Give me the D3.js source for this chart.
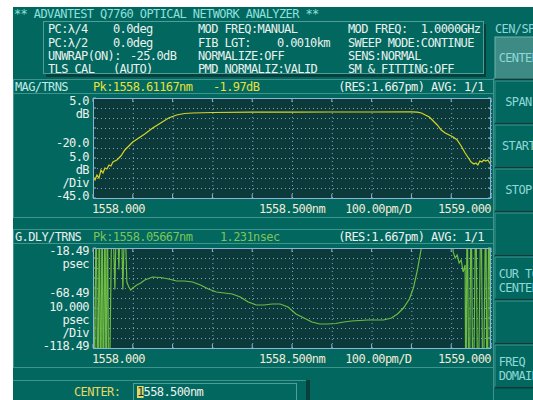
<!DOCTYPE html>
<html>
<head>
<meta charset="utf-8">
<script src="https://cdn.jsdelivr.net/npm/d3@7"></script>
<style>
  body { margin: 0; background: #fff; }
  svg text { font-family: "DejaVu Sans Mono", monospace; font-size: 12px; letter-spacing: -0.6px; white-space: pre; }
</style>
</head>
<body>
<div id="SCREEN"></div>
<script>
// wavelength axis (nm) and the two traces
var wlMag = [1558.000, 1558.005, 1558.010, 1558.015, 1558.020, 1558.025, 1558.030, 1558.035, 1558.040, 1558.045,
             1558.050, 1558.060, 1558.070, 1558.080, 1558.090, 1558.100, 1558.115, 1558.130, 1558.150, 1558.170,
             1558.190, 1558.210, 1558.230, 1558.250, 1558.300, 1558.400, 1558.500, 1558.600, 1558.700, 1558.800,
             1558.815, 1558.825, 1558.835, 1558.845, 1558.855, 1558.865, 1558.875, 1558.885, 1558.895, 1558.905,
             1558.915, 1558.925, 1558.935, 1558.945, 1558.950, 1558.957, 1558.962, 1558.967, 1558.972, 1558.977,
             1558.982, 1558.987, 1558.992, 1559.000];
var magDb = [-34.5, -36.0, -33.5, -35.0, -31.0, -32.5, -30.0, -30.5, -28.5, -29.0,
             -27.0, -26.0, -24.0, -21.0, -19.0, -17.0, -15.0, -13.0, -10.0, -7.5,
             -5.0, -3.5, -2.75, -2.5, -2.25, -2.1, -2.05, -2.0, -2.0, -1.97,
             -2.05, -2.5, -3.5, -4.5, -6.5, -8.5, -11.0, -12.5, -13.5, -14.5,
             -16.0, -19.0, -22.5, -25.5, -27.0, -28.0, -27.5, -28.5, -26.5, -27.0,
             -26.0, -26.5, -26.0, -28.5];

var wlDly = [1558.000, 1558.003, 1558.008, 1558.012, 1558.016, 1558.019, 1558.023, 1558.026, 1558.030, 1558.033,
             1558.036, 1558.040, 1558.048, 1558.055, 1558.060, 1558.065, 1558.070, 1558.075, 1558.080, 1558.085,
             1558.090, 1558.095, 1558.100, 1558.110, 1558.120, 1558.130, 1558.150, 1558.170, 1558.190, 1558.210,
             1558.230, 1558.250, 1558.270, 1558.290, 1558.310, 1558.330, 1558.350, 1558.370, 1558.390, 1558.410,
             1558.430, 1558.450, 1558.470, 1558.490, 1558.510, 1558.530, 1558.550, 1558.570, 1558.590, 1558.610,
             1558.630, 1558.650, 1558.670, 1558.690, 1558.710, 1558.730, 1558.750, 1558.765, 1558.780, 1558.795,
             1558.805, 1558.815, 1558.825, 1558.835, 1558.860, 1558.880, 1558.900, 1558.905, 1558.910, 1558.915,
             1558.920, 1558.925, 1558.930, 1558.935, 1558.937, 1558.940, 1558.945, 1558.950, 1558.955, 1558.962,
             1558.967, 1558.975, 1558.980, 1558.987, 1558.990, 1558.995, 1559.000];
var dlyPs = [40, -200, 40, -200, 40, -200, 40, -200, 40, -200,
             40, -200, 40, -60, 40, -40, 40, -60, 20, -52.5,
             -57.5, -60.5, -58.5, -55.5, -53.5, -50.5, -47.5, -48, -49.5, -51.5,
             -51.5, -52.5, -55.5, -59.5, -62.5, -63.5, -64.5, -67.5, -72.5, -75.5,
             -75.5, -74.5, -74.5, -77.5, -84.5, -88.5, -92.5, -94.5, -94.5, -94,
             -92.5, -91.5, -91, -90.5, -90.5, -90.5, -88.5, -84.5, -78.5, -69.5,
             -58.5, -40.5, -18.5, 10, 60, 60, 10, -22.5, -28.5, -25.5,
             -33.5, -30.5, -42.5, -35.5, -200, 40, -200, 40, -200, 40,
             -200, 40, -200, 40, -200, 40, -200];

var magTicks = ["5.0", "dB", "", "", "-20.0", "5.0", "dB", "/Div", "-45.0"];
var dlyTicks = ["-18.49", "psec", "", "", "-68.49", "10.000", "psec", "/Div", "-118.49"];
var xLabels = ["1558.000", "1558.500nm", "100.00pm/D", "1559.000"];

var infoLeft = ["PC:\u03BB/4", "PC:\u03BB/2", "UNWRAP(ON):", "TLS CAL"];
var infoLeftVal = ["0.0deg", "0.0deg", "-25.0dB", "(AUTO)"];
var infoMid = ["MOD FREQ:MANUAL", "FIB LGT:", "NORMALIZE:OFF", "PMD NORMALIZ:VALID"];
var infoMidVal = ["", "0.0010km", "", ""];
var infoRight = ["MOD FREQ:  1.0000GHz", "SWEEP MODE:CONTINUE", "SENS:NORMAL", "SM & FITTING:OFF"];
var softKeys = [["CENTER"], ["SPAN"], ["START"], ["STOP"], [""], ["CUR TO", "CENTER"], [""], ["FREQ  ", "DOMAIN"]];

var W = 533, H = 400;
var TEAL = "#02675f", PLOT_BG = "#0c3a3a", EDGE = "#3f958d", DARK = "#063f3b";

var svg = d3.select("#SCREEN").append("svg")
    .attr("width", W).attr("height", H);

svg.append("rect").attr("width", W).attr("height", H).attr("fill", "#fff");
svg.append("rect").attr("x", 13).attr("y", 7).attr("width", W - 13).attr("height", H - 7).attr("fill", TEAL);

function txt(x, y, s, col, anchor) {
    return svg.append("text").attr("x", x).attr("y", y).attr("fill", col)
        .attr("text-anchor", anchor || "start").text(s);
}
function hline(y, x0, x1, col) {
    svg.append("line").attr("x1", x0).attr("x2", x1).attr("y1", y).attr("y2", y).attr("stroke", col);
}
function vline(x, y0, y1, col) {
    svg.append("line").attr("x1", x).attr("x2", x).attr("y1", y0).attr("y2", y1).attr("stroke", col);
}

// title + info box
txt(14, 18, "** ADVANTEST Q7760 OPTICAL NETWORK ANALYZER **", "#8fe0dc");
svg.append("rect").attr("x", 46).attr("y", 24).attr("width", 440).attr("height", 53).attr("fill", DARK);
svg.append("rect").attr("x", 43.5).attr("y", 21.5).attr("width", 440).attr("height", 52)
    .attr("fill", TEAL).attr("stroke", "#4f9f98");
var rowY = [33, 46.5, 60, 73];
rowY.forEach(function(y, i) {
    txt(48, y, infoLeft[i], "#e8f2ee");
    txt(i == 2 ? 130 : 113, y, infoLeftVal[i], "#e8f2ee");
    txt(198, y, infoMid[i], "#e8f2ee");
    if (infoMidVal[i]) txt(277, y, infoMidVal[i], "#e8f2ee");
    txt(348, y, infoRight[i], "#e8f2ee");
});

// soft keys on the right
txt(495, 33, "CEN/SP", "#8fd8d8");
vline(493.5, 78, 400, EDGE);
softKeys.forEach(function(lab, i) {
    var top = 37 + 44 * i;
    var g = svg.append("g");
    g.append("rect").attr("x", 495).attr("y", top).attr("width", 60).attr("height", 42)
        .attr("fill", i == 0 ? "#3e8a84" : TEAL).attr("stroke", i == 0 ? "#6fb3ad" : EDGE);
    g.append("line").attr("x1", 495).attr("x2", 560).attr("y1", top + 42.5).attr("y2", top + 42.5).attr("stroke", DARK).attr("stroke-width", 2);
    if (lab.length == 1) txt(518.5, top + 25, lab[0], "#8fd8d8", "middle");
    else { txt(518.5, top + 21, lab[0], "#8fd8d8", "middle"); txt(518.5, top + 35, lab[1], "#8fd8d8", "middle"); }
});

// shared x scale
var x = d3.scaleLinear().domain([1558.0, 1559.0]).range([93, 491]);

function panel(off, yDomain, tickLabels, headL, pk, pkVal, pkCol, headCol, wl, vals, trace) {
    var top = 98 + off, bot = 198 + off;
    var y = d3.scaleLinear().domain(yDomain).range([bot, top]);

    hline(79.5 + off, 13, 493, EDGE);
    hline(93.5 + off, 13, 493, EDGE);
    hline(217.5 + off, 13, 493, EDGE);
    vline(13.5, 79 + off, 218 + off, EDGE);

    txt(15, 91 + off, headL, headCol);
    txt(93, 91 + off, pk, pkCol);
    txt(pkCol == "#e6e03a" ? 213 : 220, 91 + off, pkVal, pkCol);
    txt(484, 91 + off, "(RES:1.667pm) AVG: 1/1", "#eef2ee", "end");

    svg.append("rect").attr("x", x.range()[0]).attr("y", top).attr("width", x.range()[1] - x.range()[0])
        .attr("height", bot - top).attr("fill", PLOT_BG);

    var yt = d3.range(11).map(function(i) { return yDomain[0] + (yDomain[1] - yDomain[0]) * i / 10; });
    var xt = d3.range(11).map(function(i) { return 1558.0 + i / 10; });

    // dotted grid
    svg.append("g").attr("transform", "translate(0," + bot + ")")
        .call(d3.axisBottom(x).tickValues(xt).tickSize(-(bot - top)).tickFormat(""))
        .call(function(g) {
            g.select(".domain").remove();
            g.selectAll("line").attr("stroke", "#7fa3bf").attr("stroke-dasharray", "1,3");
        });
    svg.append("g").attr("transform", "translate(" + x.range()[0] + ",0)")
        .call(d3.axisLeft(y).tickValues(yt).tickSize(-(x.range()[1] - x.range()[0])).tickFormat(""))
        .call(function(g) {
            g.select(".domain").remove();
            g.selectAll("line").attr("stroke", "#7fa3bf").attr("stroke-dasharray", "1,3");
        });
    // solid ticks on the frame
    var tk = svg.append("g").attr("stroke", "#8fb3d3");
    xt.forEach(function(v) {
        tk.append("line").attr("x1", x(v)).attr("x2", x(v)).attr("y1", top).attr("y2", top + 4);
        tk.append("line").attr("x1", x(v)).attr("x2", x(v)).attr("y1", bot - 4).attr("y2", bot);
    });
    yt.forEach(function(v) {
        tk.append("line").attr("x1", 93).attr("x2", 96).attr("y1", y(v)).attr("y2", y(v));
        tk.append("line").attr("x1", 488).attr("x2", 491).attr("y1", y(v)).attr("y2", y(v));
    });

    var clipId = "clip" + off;
    svg.append("clipPath").attr("id", clipId).append("rect")
        .attr("x", 93).attr("y", top).attr("width", 398).attr("height", bot - top);
    svg.append("path")
        .datum(wl.map(function(d, i) { return [d, vals[i]]; }))
        .attr("clip-path", "url(#" + clipId + ")")
        .attr("fill", "none").attr("stroke", trace).attr("stroke-width", 1.2)
        .attr("d", d3.line().x(function(d) { return x(d[0]); }).y(function(d) { return y(d[1]); }));

    svg.append("rect").attr("x", 93.5).attr("y", top + 0.5).attr("width", 397).attr("height", bot - top)
        .attr("fill", "none").attr("stroke", "#8fb3d3");

    // y labels
    var ly = [105, 118, 0, 0, 147, 161, 174, 187, 200];
    tickLabels.forEach(function(s, i) { if (s) txt(89, ly[i] + off, s, "#eef2ee", "end"); });

    // x labels
    txt(x(1558.0) - 1, 213 + off, xLabels[0], "#f2ead6");
    txt(x(1558.5), 213 + off, xLabels[1], "#f2ead6", "middle");
    txt(x(1558.8), 213 + off, xLabels[2], "#f2ead6", "end");
    txt(x(1559.0), 213 + off, xLabels[3], "#f2ead6", "end");
}

panel(0, [-45, 5], magTicks, "MAG/TRNS", "Pk:1558.61167nm", "-1.97dB", "#e6e03a", "#bfeae6", wlMag, magDb, "#d8d424");
panel(150, [-118.49, -18.49], dlyTicks, "G.DLY/TRNS", "Pk:1558.05667nm", "1.231nsec", "#7cc458", "#e6f0ee", wlDly, dlyPs, "#6cbc44");

// bottom entry line
hline(380.5, 13, 306, EDGE);
svg.append("rect").attr("x", 306).attr("y", 380).attr("width", 4).attr("height", 20).attr("fill", DARK);
txt(74, 396, "CENTER:", "#e8d862");
svg.append("rect").attr("x", 133.5).attr("y", 383.5).attr("width", 163).attr("height", 17)
    .attr("fill", TEAL).attr("stroke", "#4f9f98");
svg.append("rect").attr("x", 137).attr("y", 386).attr("width", 6.6).attr("height", 12).attr("fill", "#e8d862");
txt(137, 396, "1", "#0c3a3a");
txt(143.6, 396, "558.500nm", "#eef2ee");
</script>
</body>
</html>
